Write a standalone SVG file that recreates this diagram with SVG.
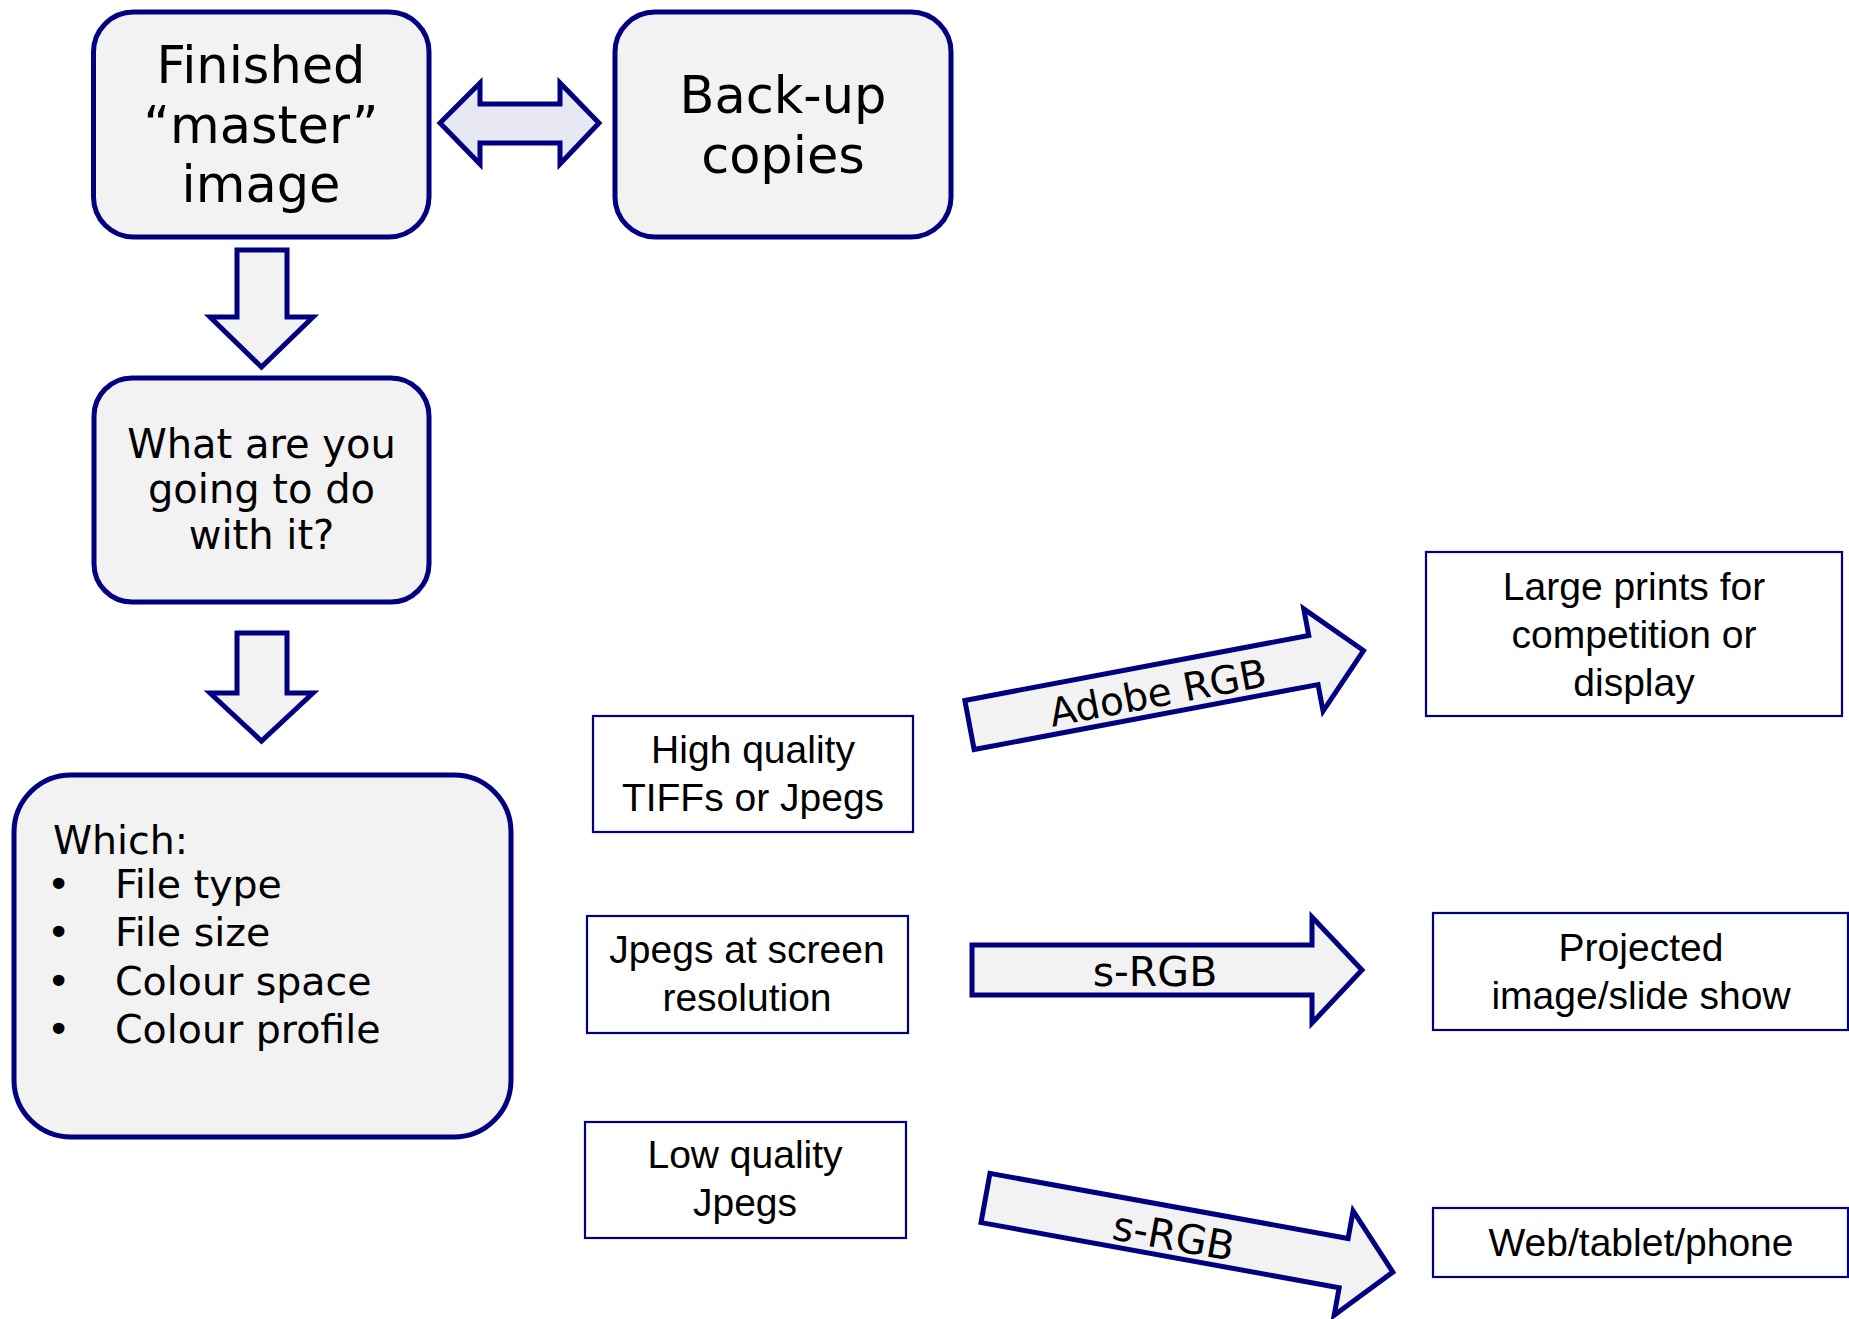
<svg xmlns="http://www.w3.org/2000/svg" width="1849" height="1319" viewBox="0 0 1849 1319">
<style>
.rbox{fill:#f2f2f2;stroke:#000080;stroke-width:5}
.arr{fill:#f2f2f2;stroke:#000080;stroke-width:5;stroke-linejoin:miter}
.darr{fill:#e8e8f4;stroke:#000080;stroke-width:5}
.sbox{fill:#ffffff;stroke:#000080;stroke-width:2.2}
.v{font-family:"DejaVu Sans",Verdana,sans-serif;fill:#000}
.a{font-family:"Liberation Sans",Arial,sans-serif;fill:#000;font-size:39px;text-anchor:middle}
</style>
<rect width="1849" height="1319" fill="#ffffff"/>
<g id="connectors">
<path class="darr" d="M440,123 L480,83 L480,104 L560,104 L560,83 L599,123 L560,164 L560,143 L480,143 L480,164 Z"/>
<path class="arr" d="M237,250 L287,250 L287,317 L313,317 L261.5,367 L210,317 L237,317 Z"/>
<path class="arr" d="M237,633 L287,633 L287,693 L313,693 L261.5,741 L210,693 L237,693 Z"/>
<g transform="translate(969.5,725) rotate(-10.7)">
<path class="arr" d="M0,-25 L350,-25 L350,-52 L401,0 L350,52 L350,25 L0,25 Z"/>
<text class="v" x="191" y="17" font-size="39" text-anchor="middle">Adobe RGB</text>
</g>
<g transform="translate(972,970)">
<path class="arr" d="M0,-25 L340,-25 L340,-53 L390,0 L340,53 L340,25 L0,25 Z"/>
<text class="v" x="183" y="16" font-size="41" text-anchor="middle">s-RGB</text>
</g>
<g transform="translate(985.5,1198) rotate(10.3)">
<path class="arr" d="M0,-25 L364,-25 L364,-53 L414,0 L364,53 L364,25 L0,25 Z"/>
<text class="v" x="192" y="18" font-size="40.5" text-anchor="middle">s-RGB</text>
</g>
</g>
<g id="master">
<rect class="rbox" x="93.5" y="12" width="335.5" height="225" rx="40"/>
<text class="v" font-size="51" text-anchor="middle"><tspan x="261" y="83">Finished</tspan><tspan x="261" y="143">“master”</tspan><tspan x="261" y="202">image</tspan></text>
</g>
<g id="backup">
<rect class="rbox" x="615" y="12" width="336" height="225" rx="40"/>
<text class="v" font-size="51" text-anchor="middle"><tspan x="783" y="113">Back-up</tspan><tspan x="783" y="173">copies</tspan></text>
</g>
<g id="question">
<rect class="rbox" x="94" y="378" width="335" height="224" rx="38"/>
<text class="v" font-size="40" text-anchor="middle"><tspan x="261.5" y="458">What are you</tspan><tspan x="261.5" y="503">going to do</tspan><tspan x="261.5" y="549">with it?</tspan></text>
</g>
<g id="which">
<rect class="rbox" x="14" y="775" width="497" height="362" rx="57"/>
<text class="v" font-size="39.5"><tspan x="53" y="854">Which:</tspan></text>
<text class="v" font-size="39.5"><tspan x="47" y="898">•</tspan><tspan x="115" y="898">File type</tspan></text>
<text class="v" font-size="39.5"><tspan x="47" y="946">•</tspan><tspan x="115" y="946">File size</tspan></text>
<text class="v" font-size="39.5"><tspan x="47" y="995">•</tspan><tspan x="115" y="995">Colour space</tspan></text>
<text class="v" font-size="39.5"><tspan x="47" y="1043">•</tspan><tspan x="115" y="1043">Colour profile</tspan></text>
</g>
<g id="hq">
<rect class="sbox" x="593" y="716" width="320" height="116"/>
<text class="a"><tspan x="753" y="763">High quality</tspan><tspan x="753" y="811">TIFFs or Jpegs</tspan></text>
</g>
<g id="screen">
<rect class="sbox" x="587" y="916" width="321" height="117"/>
<text class="a"><tspan x="747" y="963">Jpegs at screen</tspan><tspan x="747" y="1011">resolution</tspan></text>
</g>
<g id="lq">
<rect class="sbox" x="585" y="1122" width="321" height="116"/>
<text class="a"><tspan x="745" y="1168">Low quality</tspan><tspan x="745" y="1216">Jpegs</tspan></text>
</g>
<g id="prints">
<rect class="sbox" x="1426" y="552" width="416" height="164"/>
<text class="a"><tspan x="1634" y="600">Large prints for</tspan><tspan x="1634" y="648">competition or</tspan><tspan x="1634" y="696">display</tspan></text>
</g>
<g id="projected">
<rect class="sbox" x="1433" y="913" width="415" height="117"/>
<text class="a"><tspan x="1641" y="961">Projected</tspan><tspan x="1641" y="1009">image/slide show</tspan></text>
</g>
<g id="web">
<rect class="sbox" x="1433" y="1208" width="415" height="69"/>
<text class="a"><tspan x="1641" y="1256">Web/tablet/phone</tspan></text>
</g>
</svg>
